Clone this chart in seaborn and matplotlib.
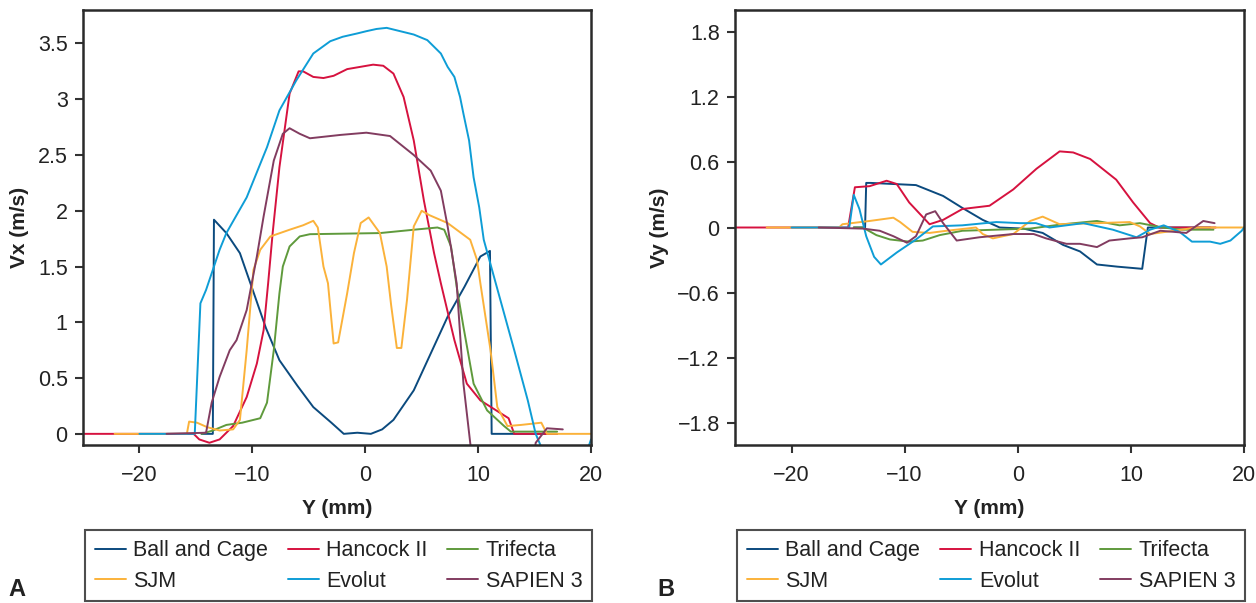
import matplotlib
matplotlib.use("Agg")
import matplotlib.pyplot as plt
import seaborn as sns
import pandas as pd
from matplotlib.ticker import FuncFormatter

# ---- Panel A: Vx profiles ----
ball_a_x = [-14.5, -13.5, -13.4, -12.3, -11.1, -10.0, -8.8, -7.6, -6.0, -4.6, -3.0, -1.9, -0.7, 0.5, 1.5, 2.5, 4.3, 5.8, 7.3, 8.8, 10.2, 11.05, 11.2, 11.5, 17]
ball_a_y = [0, 0, 1.92, 1.80, 1.62, 1.30, 0.95, 0.66, 0.43, 0.24, 0.10, 0.0, 0.01, 0.0, 0.04, 0.125, 0.39, 0.72, 1.05, 1.32, 1.59, 1.64, 0, 0, 0]

hancock_a_x = [-25, -15.2, -14.7, -13.8, -12.9, -11.7, -10.5, -9.6, -9.0, -8.6, -8.2, -7.6, -6.7, -5.9, -5.5, -4.6, -3.7, -2.8, -1.6, 0.7, 1.6, 2.5, 3.4, 4.3, 5.2, 6.1, 6.7, 7.9, 9.0, 10.2, 12.7, 13.2, 17]
hancock_a_y = [0, 0, -0.05, -0.08, -0.05, 0.07, 0.33, 0.63, 0.93, 1.35, 1.80, 2.39, 3.05, 3.25, 3.25, 3.20, 3.19, 3.21, 3.27, 3.31, 3.30, 3.23, 3.02, 2.63, 2.09, 1.62, 1.35, 0.84, 0.45, 0.30, 0.14, 0, 0]

trifecta_a_x = [-14.5, -13.5, -12.3, -10.9, -9.3, -8.7, -8.1, -7.6, -7.3, -6.7, -5.8, -4.9, 1.3, 4.3, 6.4, 7.0, 7.6, 8.1, 8.7, 9.6, 10.8, 12.3, 12.9, 17]
trifecta_a_y = [0, 0.03, 0.08, 0.10, 0.14, 0.28, 0.75, 1.26, 1.50, 1.68, 1.77, 1.79, 1.80, 1.83, 1.85, 1.83, 1.68, 1.32, 0.96, 0.45, 0.21, 0.07, 0.02, 0.02]

sjm_a_x = [-22.2, -15.8, -15.6, -14.9, -14.0, -12.9, -11.7, -11.1, -10.5, -9.9, -9.3, -8.4, -6.7, -5.5, -4.6, -4.2, -3.7, -3.3, -2.8, -2.4, -1.6, -1.0, -0.4, 0.3, 1.3, 1.9, 2.3, 2.8, 3.2, 3.7, 4.3, 5.0, 5.7, 7.3, 9.3, 9.9, 10.2, 11.1, 11.7, 12.6, 13.8, 15.6, 16.1, 20]
sjm_a_y = [0, 0, 0.11, 0.10, 0.06, 0.03, 0.04, 0.125, 0.75, 1.47, 1.65, 1.77, 1.83, 1.87, 1.91, 1.85, 1.50, 1.35, 0.81, 0.82, 1.26, 1.62, 1.89, 1.94, 1.80, 1.50, 1.15, 0.77, 0.77, 1.20, 1.86, 2.00, 1.96, 1.89, 1.74, 1.56, 1.35, 0.75, 0.24, 0.07, 0.08, 0.10, 0, 0]

evolut_a_x = [-20, -15.1, -14.6, -14.1, -12.9, -12.3, -10.5, -9.3, -8.7, -7.6, -6.1, -4.6, -3.1, -2.0, -0.7, 0.1, 1.0, 1.9, 3.1, 4.3, 5.5, 6.7, 7.3, 7.9, 8.4, 8.7, 9.2, 9.6, 10.1, 10.5, 11.4, 13.2, 14.4, 15.1, 15.6, 16.5, 19.5, 20]
evolut_a_y = [0, 0, 1.17, 1.29, 1.65, 1.80, 2.12, 2.42, 2.57, 2.90, 3.17, 3.41, 3.52, 3.56, 3.59, 3.61, 3.63, 3.64, 3.61, 3.58, 3.53, 3.41, 3.29, 3.20, 3.02, 2.87, 2.63, 2.30, 2.03, 1.74, 1.41, 0.75, 0.30, 0, -0.12, -0.2, -0.2, -0.05]

sapien_a_x = [-17.6, -14.1, -13.6, -12.9, -12.0, -11.4, -10.5, -9.6, -9.0, -8.1, -7.3, -6.7, -5.8, -4.9, -2.2, 0.1, 2.2, 4.3, 5.8, 6.7, 7.3, 8.1, 8.7, 9.3, 10.0, 14.5, 15.1, 16.1, 17.5]
sapien_a_y = [0, 0.01, 0.28, 0.51, 0.75, 0.84, 1.11, 1.59, 1.95, 2.45, 2.69, 2.74, 2.69, 2.65, 2.68, 2.70, 2.67, 2.50, 2.36, 2.18, 1.86, 1.35, 0.45, -0.08, -0.6, -0.6, -0.08, 0.05, 0.04]

# ---- Panel B: Vy profiles ----
ball_b_x = [-14.5, -13.5, -13.4, -13.0, -9.0, -6.6, -4.9, -3.1, -1.6, 0.5, 2.2, 4.0, 5.5, 7.0, 8.8, 11.0, 11.5, 17]
ball_b_y = [0, 0, 0.41, 0.41, 0.39, 0.29, 0.18, 0.07, 0.0, -0.01, -0.05, -0.16, -0.22, -0.34, -0.36, -0.38, 0, 0]

hancock_b_x = [-25, -15.0, -14.4, -13.1, -11.6, -10.7, -9.6, -7.8, -6.6, -4.9, -2.5, -0.4, 1.65, 3.7, 4.9, 6.4, 8.7, 10.2, 11.7, 12.5, 17.5]
hancock_b_y = [0, 0, 0.37, 0.38, 0.43, 0.40, 0.23, 0.03, 0.07, 0.17, 0.20, 0.35, 0.54, 0.70, 0.69, 0.63, 0.44, 0.23, 0.04, 0, 0]

trifecta_b_x = [-14.5, -13.7, -12.5, -11.3, -9.6, -8.4, -6.9, -4.9, -1.9, 1.1, 4.0, 7.0, 9.0, 10.8, 12.8, 14.5, 17.3]
trifecta_b_y = [0, 0, -0.07, -0.11, -0.13, -0.12, -0.07, -0.03, -0.02, -0.01, 0.03, 0.06, 0.02, 0.04, 0.0, -0.02, -0.02]

sjm_b_x = [-22.2, -15.8, -15.5, -13.1, -11.0, -10.4, -9.3, -7.8, -6.3, -3.7, -3.1, -2.2, -0.4, 1.1, 2.2, 3.7, 7.0, 9.9, 10.8, 11.7, 13.8, 15.8, 20]
sjm_b_y = [0, 0, 0.03, 0.06, 0.09, 0.05, -0.04, -0.05, -0.03, 0, -0.06, -0.10, -0.06, 0.06, 0.10, 0.03, 0.04, 0.05, 0.01, -0.06, -0.03, 0, 0]

evolut_b_x = [-20, -14.9, -14.5, -14.0, -13.4, -12.7, -12.1, -10.7, -9.0, -7.5, -4.9, -1.9, 0.2, 1.6, 2.8, 5.8, 8.4, 10.5, 11.7, 12.9, 14.3, 15.4, 17.0, 17.9, 18.8, 19.8, 20]
evolut_b_y = [0, 0, 0.30, 0.17, -0.08, -0.27, -0.34, -0.23, -0.11, 0.01, 0.02, 0.05, 0.04, 0.04, 0.0, 0.04, -0.02, -0.09, -0.02, 0.02, -0.04, -0.13, -0.13, -0.15, -0.12, -0.03, 0.0]

sapien_b_x = [-17.6, -13.7, -12.2, -11.0, -9.8, -9.0, -8.1, -7.3, -6.6, -5.4, -3.4, -0.4, 1.4, 2.5, 4.3, 5.5, 7.0, 8.1, 9.9, 11.0, 12.6, 13.8, 14.9, 16.4, 17.4]
sapien_b_y = [0, -0.01, -0.03, -0.08, -0.14, -0.08, 0.12, 0.15, 0.04, -0.12, -0.09, -0.06, -0.06, -0.10, -0.15, -0.15, -0.18, -0.12, -0.10, -0.09, -0.03, -0.04, -0.05, 0.06, 0.04]

valves = ["Ball and Cage", "Hancock II", "Trifecta", "SJM", "Evolut", "SAPIEN 3"]
colors = ["#0b4a7e", "#d6123f", "#5f9a3c", "#fbb23a", "#0e9dd6", "#823c60"]

panel_a = [(ball_a_x, ball_a_y), (hancock_a_x, hancock_a_y), (trifecta_a_x, trifecta_a_y),
           (sjm_a_x, sjm_a_y), (evolut_a_x, evolut_a_y), (sapien_a_x, sapien_a_y)]
panel_b = [(ball_b_x, ball_b_y), (hancock_b_x, hancock_b_y), (trifecta_b_x, trifecta_b_y),
           (sjm_b_x, sjm_b_y), (evolut_b_x, evolut_b_y), (sapien_b_x, sapien_b_y)]

sns.set_style("ticks")
plt.rcParams['font.family'] = ['Liberation Sans', 'DejaVu Sans']
plt.rcParams['text.color'] = "#222222"
plt.rcParams['axes.labelcolor'] = "#222222"
plt.rcParams['xtick.color'] = "#222222"
plt.rcParams['ytick.color'] = "#222222"

fig = plt.figure(figsize=(12.56, 6.03), dpi=100)
ax_a = fig.add_axes([83/1256, 1-445/603, 508/1256, 435/603])
ax_b = fig.add_axes([735/1256, 1-445/603, 509/1256, 435/603])

def fmt(v, pos):
    return f"{v:g}".replace("-", "\u2212")

for ax, data, ylab in [(ax_a, panel_a, "Vx (m/s)"), (ax_b, panel_b, "Vy (m/s)")]:
    for name, color, (xs, ys) in zip(valves, colors, data):
        df = pd.DataFrame({"Y": xs, "V": ys})
        sns.lineplot(data=df, x="Y", y="V", sort=False, estimator=None, ax=ax,
                     color=color, linewidth=1.4, label=name)
    ax.set_xlim(-25, 20)
    ax.set_xticks([-20, -10, 0, 10, 20])
    ax.set_xlabel("Y (mm)", fontsize=15, fontweight="bold", labelpad=9)
    ax.set_ylabel(ylab, fontsize=15, fontweight="bold", labelpad=6)
    ax.xaxis.set_major_formatter(FuncFormatter(fmt))
    ax.yaxis.set_major_formatter(FuncFormatter(fmt))
    ax.tick_params(axis="both", labelsize=15.5, length=5.5, width=1.5, color="#333333", direction="out")
    ax.tick_params(axis="x", pad=9)
    ax.tick_params(axis="y", pad=5.5)
    for sp in ax.spines.values():
        sp.set_visible(True)
        sp.set_linewidth(1.8)
        sp.set_color("#2a2a2a")
    handles, labels = ax.get_legend_handles_labels()
    order = [0, 3, 1, 4, 2, 5]
    leg = ax.legend([handles[i] for i in order], [labels[i] for i in order],
                    ncol=3, loc="center", bbox_to_anchor=(0.004, -0.361, 0.998, 0.166),
                    mode="expand", borderaxespad=0, fontsize=15.5, frameon=True,
                    fancybox=False, edgecolor="#222222", handlelength=1.45,
                    handletextpad=0.35, labelspacing=0.45, borderpad=0.45)
    leg.get_frame().set_linewidth(1.5)

ax_a.set_ylim(-0.1, 3.8)
ax_a.set_yticks([0, 0.5, 1, 1.5, 2, 2.5, 3, 3.5])
ax_b.set_ylim(-2.0, 2.0)
ax_b.set_yticks([-1.8, -1.2, -0.6, 0, 0.6, 1.2, 1.8])

fig.text(8/1256, 1-590/603, "A", fontsize=17, fontweight="bold", va="center", ha="left")
fig.text(657/1256, 1-590/603, "B", fontsize=17, fontweight="bold", va="center", ha="left")

fig.savefig("out.png", dpi=100)
